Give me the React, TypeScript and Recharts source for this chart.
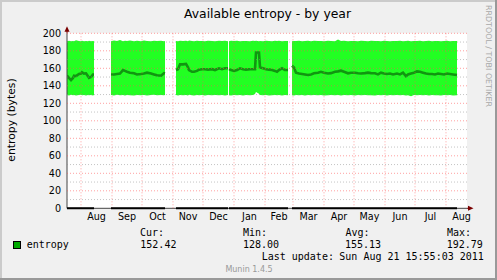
import {
  Area,
  ComposedChart,
  Line,
  ReferenceArea,
  ReferenceDot,
  ReferenceLine,
  XAxis,
  YAxis,
} from "recharts";

// day index counted from Jul 18 2010 (left edge of the plot), null = no data
const days = [
  0, 2, 4, 6, 7, 9, 12, 14, 15, 17, 19, 21, 22, 24, 26, 27,
  35,
  44, 47, 50, 53, 56, 58, 60, 63, 67, 70, 74, 77, 80, 84, 87, 90, 94, 97, 98,
  103,
  109, 111, 113, 116, 119, 121, 122, 125, 127, 130, 132, 135, 138, 141, 145, 148, 152, 155, 158, 161,
  161.5,
  162, 164, 167, 170, 173, 176, 179, 183, 186, 188, 189, 192, 193, 196, 199, 202, 205, 208, 210, 212, 215, 218, 221,
  223,
  225, 227, 229, 232, 235, 238, 241, 244, 247, 251, 254, 257, 261, 264, 268, 271, 274, 277, 281, 284,
  288, 291, 294, 298, 301, 304, 308, 311, 314, 317, 320, 323, 326, 330, 333, 336, 339, 341, 344, 347,
  350, 353, 356, 359, 362, 365, 368, 371, 374, 377, 380, 383, 386, 390,
];

const avgValues = [
  151.5, 149, 146.5, 149, 151.5, 151, 153.5, 154, 155.4, 154, 154.3, 151, 149, 150, 153, 153,
  null,
  153, 153, 153.5, 154, 158, 157, 156, 155, 154.3, 153, 153.5, 154, 155, 154, 153, 152, 151.5, 154.3, 154,
  null,
  158, 159, 164.5, 164.5, 165, 161, 158, 156, 156, 157, 158.4, 159, 159, 158.5, 159, 158, 160, 159, 160, 160,
  null,
  159, 158, 157, 158, 160, 159, 158.5, 159, 159, 159, 178, 178, 161, 160, 159, 158.5, 158, 157, 156, 158, 160, 158, 158,
  null,
  163, 161, 155, 154, 153.5, 153, 152.3, 153, 154.3, 155, 156, 155, 154, 154.5, 156, 156.5, 157.3, 156, 154.3, 155,
  155, 154.3, 154, 154.5, 155, 154.5, 154.3, 153, 155, 154, 153.5, 154, 153, 154, 153, 155, 151, 153, 154, 155,
  156.5, 156, 155, 154, 153.5, 153.5, 153, 154, 153.5, 153, 154, 153.5, 153, 152.4,
];

const minValues = [
  129.5, 129, 129.8, 129.2, 129.6, 129, 129.4, 129.8, 129.1, 129.5, 129, 129.6, 129.2, 129.5, 129, 129.4,
  null,
  129.4, 129, 129.7, 129.2, 129.5, 129, 129.6, 129.3, 129, 129.5, 129.2, 129.6, 129, 129.4, 129.7, 129.1, 129.5, 129.2, 129.4,
  null,
  129.5, 129, 129.6, 129.2, 129.4, 129, 129.7, 129.3, 129, 129.5, 129.2, 129.6, 129, 129.4, 129.1, 129.5, 129.2, 129.6, 129, 129.4,
  null,
  129.3, 129, 129.6, 129.2, 129.5, 129, 129.4, 129.1, 129.6, 130.5, 133, 131, 129.4, 129.2, 129.5, 129, 129.3, 129.6, 129.1, 129.4, 129, 129.5, 129.2,
  null,
  129.3, 129, 129.5, 129.2, 129.6, 129, 129.4, 129.1, 129.5, 129.2, 129.6, 129, 129.3, 129.5, 129.1, 129.4, 129, 129.6, 129.2, 129.4,
  129, 129.5, 129.2, 129.6, 129.1, 129.3, 129, 129.5, 129.2, 129.4, 129, 129.6, 129.2, 129.4, 129.1, 129.5, 129, 129.3, 128, 129.4,
  129.1, 129.5, 129.2, 129.4, 129, 129.6, 129.2, 129.3, 129, 129.5, 129.2, 129.4, 129, 129.3,
];

const maxValues = [
  191, 191.5, 190.8, 191.2, 191, 192, 191.3, 191, 191.5, 190.9, 191.2, 191, 191.6, 191, 191.3, 191,
  null,
  191, 191.8, 191.2, 192.3, 191, 191.5, 191.1, 191.7, 191, 191.4, 191, 191.8, 191.2, 191, 191.5, 191.1, 191.6, 191, 191.2,
  null,
  191.2, 191, 191.6, 191.1, 191.4, 191, 191.8, 191.2, 191, 191.5, 191.1, 191.3, 191, 191.6, 191.2, 191, 191.4, 191.1, 191.5, 191,
  null,
  191, 191.4, 191.1, 191.6, 191, 191.3, 191.2, 191, 191.5, 191.1, 191.4, 191, 191.3, 191, 191.6, 191.2, 191, 191.4, 191.1, 191.5, 191, 191.3, 191.1,
  null,
  191, 191.3, 191.1, 191.5, 191, 191.2, 191.4, 191, 191.6, 191.1, 191.3, 191, 191.5, 191.2, 191, 192.8, 191.1, 191.4, 191, 191.3,
  191.1, 191, 191.5, 191.2, 191, 191.4, 191.1, 191.3, 191, 191.6, 191.2, 191, 191.3, 191.1, 191.5, 191, 191.2, 191.4, 191, 191.3,
  191.1, 191.5, 191, 191.2, 191.4, 191, 191.3, 191.1, 191, 191.2, 191.4, 191, 191.3, 191.1,
];

// first day of each month (Aug 2010 .. Sep 2011) as day index
const monthStarts = [14, 45, 75, 106, 136, 167, 198, 226, 257, 287, 318, 348, 379, 410];
const monthLabels = ["Aug", "Sep", "Oct", "Nov", "Dec", "Jan", "Feb", "Mar", "Apr", "May", "Jun", "Jul", "Aug"];

const yTicks = [0, 20, 40, 60, 80, 100, 120, 140, 160, 180, 200];
const yMinor = [10, 30, 50, 70, 90, 110, 130, 150, 170, 190];

const stats = { cur: "152.42", min: "128.00", avg: "155.13", max: "192.79" };
const lastUpdate = "Sun Aug 21 15:55:03 2011";

const table = days.map((day, i) => {
  const lo = minValues[i];
  const hi = maxValues[i];
  const avg = avgValues[i];
  return {
    day,
    avg,
    band: lo == null || hi == null ? null : [lo, hi],
    zero: avg == null ? null : 0,
  };
});

const monthMids = monthLabels.map((_, i) => (monthStarts[i] + monthStarts[i + 1]) / 2);

const SANS = "DejaVu Sans";
const MONO = "DejaVu Sans Mono";
const MGRID = "rgba(255,83,83,0.55)";
const GRID = "rgba(140,140,140,0.5)";

const UpArrow = (p: any) => (
  <g>
    <line x1={p.cx} y1={p.cy} x2={p.cx} y2={p.cy - 3} stroke="#7a0000" />
    <polygon
      points={`${p.cx - 2.5},${p.cy - 1.5} ${p.cx + 2.5},${p.cy - 1.5} ${p.cx},${p.cy - 7}`}
      fill="#7a0000"
    />
  </g>
);

const RightArrow = (p: any) => (
  <g>
    <line x1={p.cx} y1={p.cy} x2={p.cx + 3} y2={p.cy} stroke="#7a0000" />
    <polygon
      points={`${p.cx + 1},${p.cy - 2.5} ${p.cx + 1},${p.cy + 2.5} ${p.cx + 6.5},${p.cy}`}
      fill="#7a0000"
    />
  </g>
);

export default function App() {
  return (
    <div
      style={{
        position: "fixed",
        left: 0,
        top: 0,
        width: 497,
        height: 280,
        background: "#F0F0F0",
      }}
    >
      <div style={{ position: "absolute", left: 0, top: 0 }}>
        <ComposedChart
          width={497}
          height={280}
          data={table}
          margin={{ top: 33.3, right: 30, bottom: 51.7, left: 7 }}
        >
          <XAxis
            dataKey="day"
            type="number"
            domain={[0, 400]}
            allowDataOverflow
            ticks={monthMids}
            interval={0}
            tickFormatter={(_v: number, i: number) => monthLabels[i]}
            tickLine={false}
            tickSize={0}
            tickMargin={5}
            height={20}
            axisLine={{ stroke: "#444" }}
            tick={{ fill: "#000", fontSize: 9.6, fontFamily: SANS }}
          />
          <YAxis
            type="number"
            domain={[0, 200]}
            ticks={yTicks}
            interval={0}
            width={60}
            tickLine={false}
            tickSize={0}
            tickMargin={6}
            axisLine={{ stroke: "#444" }}
            tick={{ fill: "#000", fontSize: 9.6, fontFamily: SANS }}
          />
          <ReferenceArea
            x1={0}
            x2={400}
            y1={0}
            y2={200}
            fill="#fff"
            fillOpacity={1}
            stroke="none"
            zIndex={-200}
          />
          <Area
            dataKey="band"
            stroke="none"
            fill="#22FF22"
            fillOpacity={1}
            connectNulls={false}
            isAnimationActive={false}
            dot={false}
            activeDot={false}
            zIndex={100}
          />
          <Line
            dataKey="avg"
            stroke="#119611"
            strokeWidth={2.6}
            dot={false}
            activeDot={false}
            connectNulls={false}
            isAnimationActive={false}
            zIndex={200}
          />
          {yMinor.map((v) => (
            <ReferenceLine key={"m" + v} y={v} stroke={GRID} strokeDasharray="1 2" zIndex={700} />
          ))}
          {yTicks.slice(1).map((v) => (
            <ReferenceLine key={"M" + v} y={v} stroke={MGRID} strokeDasharray="1 2" zIndex={700} />
          ))}
          {monthStarts.slice(0, -1).map((d) => (
            <ReferenceLine key={"x" + d} x={d} stroke={MGRID} strokeDasharray="1 2" zIndex={700} />
          ))}
          <Line
            dataKey="zero"
            stroke="#000"
            strokeWidth={2}
            dot={false}
            activeDot={false}
            connectNulls={false}
            isAnimationActive={false}
            zIndex={800}
          />
          <ReferenceDot x={0} y={200} r={0} shape={UpArrow} ifOverflow="visible" zIndex={900} />
          <ReferenceDot x={400} y={0} r={0} shape={RightArrow} ifOverflow="visible" zIndex={900} />
        </ComposedChart>
      </div>
      <svg
        width={497}
        height={280}
        style={{ position: "absolute", left: 0, top: 0, pointerEvents: "none" }}
      >
        <rect x={0} y={0} width={497} height={2} fill="#CBCBCB" />
        <rect x={0} y={0} width={2} height={280} fill="#CBCBCB" />
        <rect x={0} y={278} width={497} height={2} fill="#999999" />
        <rect x={495} y={0} width={2} height={280} fill="#999999" />

        <text x={267.5} y={18} textAnchor="middle" fontFamily={SANS} fontSize={12.4} fill="#000">
          Available entropy - by year
        </text>
        <text
          transform="translate(15,120) rotate(-90)"
          textAnchor="middle"
          fontFamily={SANS}
          fontSize={10.8}
          fill="#000"
        >
          entropy (bytes)
        </text>
        <text
          transform="translate(485.5,5) rotate(90)"
          textAnchor="start"
          fontFamily={SANS}
          fontSize={7.9}
          fill="#A8A8A8"
          textLength={102}
          lengthAdjust="spacingAndGlyphs"
        >
          RRDTOOL / TOBI OETIKER
        </text>

        <g fontFamily={MONO} fontSize={10} fill="#000">
          <text x={140} y={236}>Cur:</text>
          <text x={243} y={236}>Min:</text>
          <text x={345.5} y={236}>Avg:</text>
          <text x={447} y={236}>Max:</text>
          <rect x={13.5} y={241.5} width={7} height={7} fill="#00AA00" stroke="#000" strokeWidth={1} />
          <text x={26.7} y={248}>entropy</text>
          <text x={140.3} y={248}>{stats.cur}</text>
          <text x={243} y={248}>{stats.min}</text>
          <text x={345} y={248}>{stats.avg}</text>
          <text x={446.7} y={248}>{stats.max}</text>
          <text x={261.7} y={260}>Last update:</text>
          <text x={339.3} y={260}>{lastUpdate}</text>
        </g>
        <text x={249} y={272} textAnchor="middle" fontFamily={SANS} fontSize={8} fill="#999">
          Munin 1.4.5
        </text>
      </svg>
    </div>
  );
}
